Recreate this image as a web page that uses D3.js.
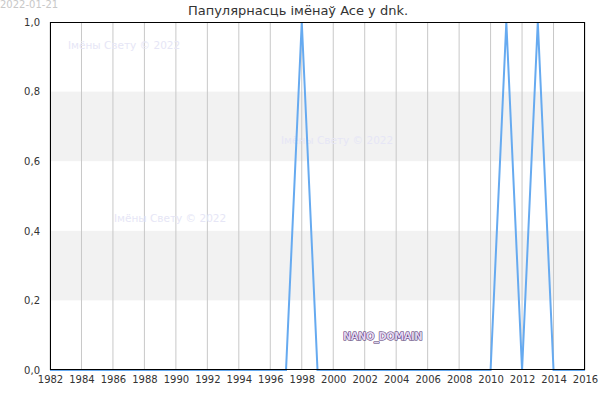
<!DOCTYPE html>
<html><head><meta charset="utf-8">
<script src="https://cdn.jsdelivr.net/npm/d3@7"></script>
<style>body{margin:0;background:#fff}svg{display:block;font-family:"DejaVu Sans",sans-serif}</style>
</head><body><svg id="c" width="600" height="400"></svg>
<script>
const years = d3.range(1982, 2017);
const values = [0,0,0,0,0,0,0,0,0,0,0,0,0,0,0,0,1,0,0,0,0,0,0,0,0,0,0,0,0,1,0,1,0,0,0];
const xTicks = d3.range(1982, 2017, 2);
const yTicks = [0, 0.2, 0.4, 0.6, 0.8, 1.0];
const bands = [[0.2, 0.4], [0.6, 0.8]];
const title = "Папулярнасць імёнаў Ace у dnk.";
const dateLabel = "2022-01-21";
const watermark = "Імёны Свету © 2022";

const svg = d3.select("#c");
const m = {l: 50, r: 15, t: 22, b: 30};
const W = 600, H = 400;
const x = d3.scaleLinear().domain([1982, 2016]).range([m.l, W - m.r]);
const y = d3.scaleLinear().domain([0, 1]).range([H - m.b, m.t]);

svg.selectAll("rect.band").data(bands).enter().append("rect")
  .attr("x", m.l).attr("width", W - m.r - m.l)
  .attr("y", d => y(d[1])).attr("height", d => y(d[0]) - y(d[1]))
  .attr("fill", "#f2f2f2");

svg.selectAll("line.grid").data(xTicks).enter().append("line")
  .attr("x1", d => x(d)).attr("x2", d => x(d))
  .attr("y1", m.t).attr("y2", H - m.b)
  .attr("stroke", "#c8c8c8").attr("stroke-width", 1);

const wm = [[68, 49], [281, 144], [114, 222]];
svg.selectAll("text.wm").data(wm).enter().append("text")
  .attr("x", d => d[0]).attr("y", d => d[1])
  .attr("font-size", 10.5).attr("fill", "#e6e6f6").text(watermark);

const line = d3.line().x((d, i) => x(years[i])).y(d => y(d));
svg.append("path").datum(values).attr("d", line)
  .attr("fill", "none").attr("stroke", "#66aaf0").attr("stroke-width", 2);

svg.append("rect").attr("x", m.l + 0.5).attr("y", m.t + 0.5)
  .attr("width", W - m.r - m.l - 1).attr("height", H - m.b - m.t - 1)
  .attr("fill", "none").attr("stroke", "#000").attr("stroke-width", 1);

const xAxis = svg.append("g").attr("transform", `translate(0,${H - m.b})`)
  .call(d3.axisBottom(x).tickValues(xTicks).tickFormat(d3.format("d")).tickSize(0).tickPadding(6));
xAxis.select(".domain").remove();
xAxis.selectAll("text").attr("font-size", 10).attr("fill", "#333").attr("font-family", "DejaVu Sans");

const fmt = d => d.toFixed(1).replace(".", ",");
const yAxis = svg.append("g").attr("transform", `translate(${m.l},0)`)
  .call(d3.axisLeft(y).tickValues(yTicks).tickFormat(fmt).tickSize(0).tickPadding(10));
yAxis.select(".domain").remove();
yAxis.selectAll("text").attr("font-size", 10).attr("fill", "#333").attr("font-family", "DejaVu Sans");

svg.append("text").attr("x", 298).attr("y", 15).attr("text-anchor", "middle")
  .attr("font-size", 13).attr("fill", "#333").text(title);
svg.append("text").attr("x", 0).attr("y", 8).attr("font-size", 10)
  .attr("fill", "#c8c8c8").text(dateLabel);

svg.append("text").attr("x", 343).attr("y", 340).attr("font-size", 10)
  .attr("font-weight", "bold").attr("fill", "#e0d4f0").attr("stroke", "#4a2a6a")
  .attr("stroke-width", 1).attr("paint-order", "stroke").attr("letter-spacing", -0.5).text("NANO_DOMAIN");
</script></body></html>
